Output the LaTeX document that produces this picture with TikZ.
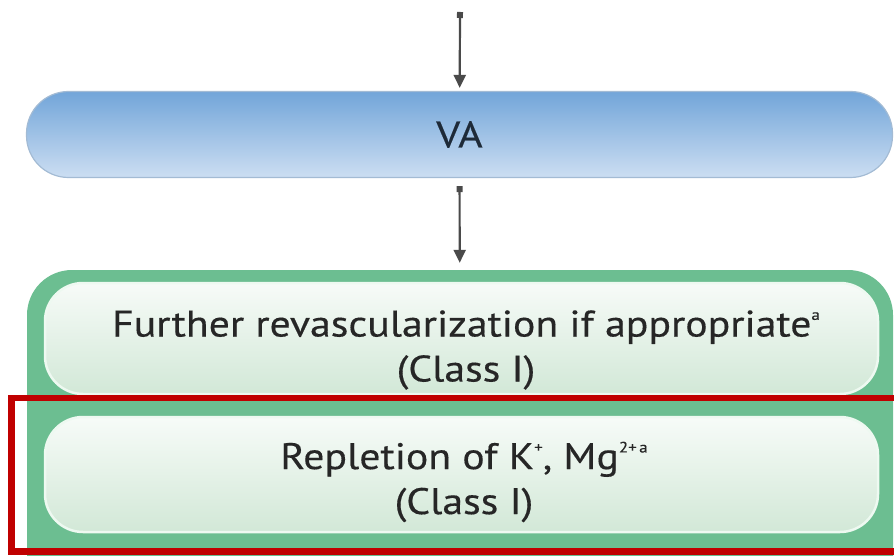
\documentclass[tikz,border=0pt]{standalone}
\usepackage{fontspec}
\setmainfont[FakeStretch=1.13,FakeBold=0.35]{PT Sans}
\usetikzlibrary{arrows.meta}
\definecolor{inkgray}{HTML}{262626}
\definecolor{vaink}{HTML}{1E2A38}
\definecolor{arrowgray}{HTML}{4A4A4A}
\definecolor{vatop}{HTML}{72A5D9}
\definecolor{vabottom}{HTML}{CCDEF2}
\definecolor{vaedge}{HTML}{A3BBD4}
\definecolor{panelgreen}{HTML}{6CBE91}
\definecolor{boxtop}{HTML}{F7FBF8}
\definecolor{boxbottom}{HTML}{D2E8D7}
\definecolor{boxedge}{HTML}{EEF9F1}
\definecolor{flagred}{HTML}{C00000}
% small raised note marks
\newcommand\notemark[1]{\raisebox{.45em}{\fontsize{15}{15}\selectfont #1}}
\begin{document}
\begin{tikzpicture}[x=1pt,y=-1pt,
  flow/.style={draw=arrowgray,line width=2.2pt,
    {Square[length=6pt,width=6pt]}-{Triangle[length=13pt,width=12pt]}},
  pill/.style={rounded corners=42pt,top color=vatop,bottom color=vabottom,
    draw=vaedge,line width=1.2pt,minimum width=866pt,minimum height=86pt,inner sep=0pt},
  panel/.style={rounded corners=45pt,fill=panelgreen,minimum width=866pt,
    minimum height=370pt,inner sep=0pt},
  stepbox/.style={rounded corners=38pt,top color=boxtop,bottom color=boxbottom,
    draw=boxedge,line width=2.5pt,minimum width=833pt,inner sep=0pt},
  caption/.style={text=inkgray,align=center,inner sep=0pt,
    font=\fontsize{37}{45}\selectfont},
  vatext/.style={text=vaink,inner sep=0pt,font=\fontsize{37}{45}\selectfont}
]
\useasboundingbox (0,0) rectangle (894,556);
\clip (0,0) rectangle (894,556);

% flow stages
\coordinate (entry) at (460,12);
\node[pill] (va) at (459.5,134.5) {};
\node[vatext] (valabel) at (va.center) {VA};
\node[panel] (panel) at (460,455) {};
\node[stepbox,minimum height=111pt] (revasc) at (461.5,338.5) {};
\node[stepbox,minimum height=115pt] (repletion) at (461.5,474.5) {};
\node[caption] (revasctext) at (466,350)
  {Further revascularization if appropriate\notemark{a}\\(Class I)};
\node[caption] (repletiontext) at (464,482)
  {Repletion of K\notemark{+}, Mg\notemark{2+\,a}\\(Class I)};

% connectors
\draw[flow,shorten >=3pt] (entry) -- (va);
\draw[flow,shorten <=8pt,shorten >=7pt] (va) -- (panel);

% highlight frame around the second step
\draw[flagred,line width=6.5pt] (11.5,398) rectangle (910,551.5);
\end{tikzpicture}
\end{document}
